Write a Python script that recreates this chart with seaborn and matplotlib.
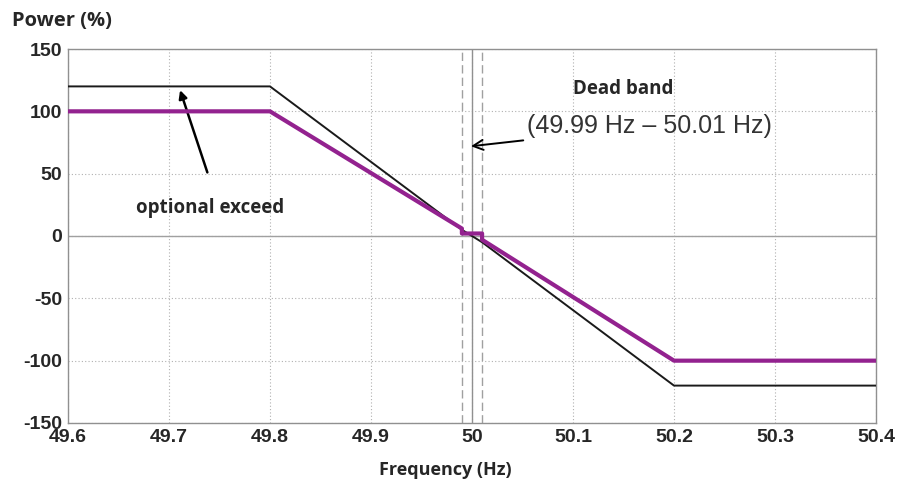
import matplotlib
matplotlib.use("Agg")
import matplotlib.pyplot as plt
import seaborn as sns
import pandas as pd

# curve data
freq_opt = [49.6, 49.8, 49.99, 50.01, 50.2, 50.4]
power_opt = [120, 120, 5, -5, -120, -120]
freq_std = [49.6, 49.8, 49.99, 49.99, 50.01, 50.01, 50.2, 50.4]
power_std = [100, 100, 6, 2, 2, -3, -100, -100]
dead_band = [49.99, 50.01]
x_ticks = [49.6, 49.7, 49.8, 49.9, 50.0, 50.1, 50.2, 50.3, 50.4]
x_labels = ["49.6", "49.7", "49.8", "49.9", "50", "50.1", "50.2", "50.3", "50.4"]
y_ticks = [-150, -100, -50, 0, 50, 100, 150]

sns.set_style("white")
plt.rcParams['font.family'] = ['Liberation Sans', 'DejaVu Sans']
plt.rcParams['axes.unicode_minus'] = False
tick_family = ['Liberation Sans Narrow', 'Liberation Sans', 'DejaVu Sans']
label_family = ['Open Sans', 'DejaVu Sans']

fig = plt.figure(figsize=(8.98, 4.91), dpi=100)
ax = fig.add_axes([0.0757, 0.1385, 0.8998, 0.7617])

df_opt = pd.DataFrame({"f": freq_opt, "p": power_opt})
df_std = pd.DataFrame({"f": freq_std, "p": power_std})

# grid and reference lines
for xt in x_ticks:
    ax.axvline(xt, color="#b0b0b0", lw=0.8, ls=(0, (1, 2)), zorder=0)
for yt in y_ticks:
    ax.axhline(yt, color="#b0b0b0", lw=0.8, ls=(0, (1, 2)), zorder=0)
ax.axhline(0, color="#a0a0a0", lw=1.0, zorder=1)
ax.axvline(50.0, color="#909090", lw=1.0, zorder=1)
for d in dead_band:
    ax.axvline(d, color="#a0a0a0", lw=1.0, ls=(0, (6, 3)), zorder=1)

sns.lineplot(data=df_opt, x="f", y="p", sort=False, estimator=None,
             color="#1a1a1a", lw=1.4, ax=ax, zorder=3)
sns.lineplot(data=df_std, x="f", y="p", sort=False, estimator=None,
             color="#93228f", lw=3.0, ax=ax, zorder=4)

ax.set_xlim(49.6, 50.4)
ax.set_ylim(-150, 150)
ax.set_xticks(x_ticks)
ax.set_xticklabels(x_labels)
ax.set_yticks(y_ticks)
ax.tick_params(axis="both", labelsize=14, length=0)
ax.tick_params(axis="x", pad=4)
ax.tick_params(axis="y", pad=4)
for lab in ax.get_xticklabels() + ax.get_yticklabels():
    lab.set_fontweight("bold")
    lab.set_family(tick_family)
ax.set_xlabel("")
ax.set_ylabel("")
for s in ax.spines.values():
    s.set_color("#909090")
    s.set_linewidth(1.0)

# labels and annotations
fig.text(0.013, 0.957, "Power (%)", fontsize=14.5, fontweight="bold",
         family=label_family, va="center", ha="left")
fig.text(0.496, 0.042, "Frequency (Hz)", fontsize=13, fontweight="bold",
         family=label_family, va="center", ha="center")

ax.text(50.1, 118, "Dead band", fontsize=13.5, fontweight="bold",
        family=label_family, ha="left", va="center")
ax.annotate("(49.99 Hz \u2013 50.01 Hz)", xy=(49.999, 72), xytext=(50.054, 88),
            fontsize=18, color="#333333", ha="left", va="center",
            arrowprops=dict(arrowstyle="->", color="black", lw=1.4,
                            shrinkA=0, shrinkB=0))
ax.annotate("", xy=(49.711, 117), xytext=(49.738, 51),
            arrowprops=dict(arrowstyle="-|>", color="black", lw=1.8,
                            mutation_scale=12, shrinkA=0, shrinkB=0))
ax.text(49.741, 22.5, "optional exceed", fontsize=13.5, fontweight="bold",
        family=label_family, ha="center", va="center")

fig.savefig("out.png", dpi=100)
